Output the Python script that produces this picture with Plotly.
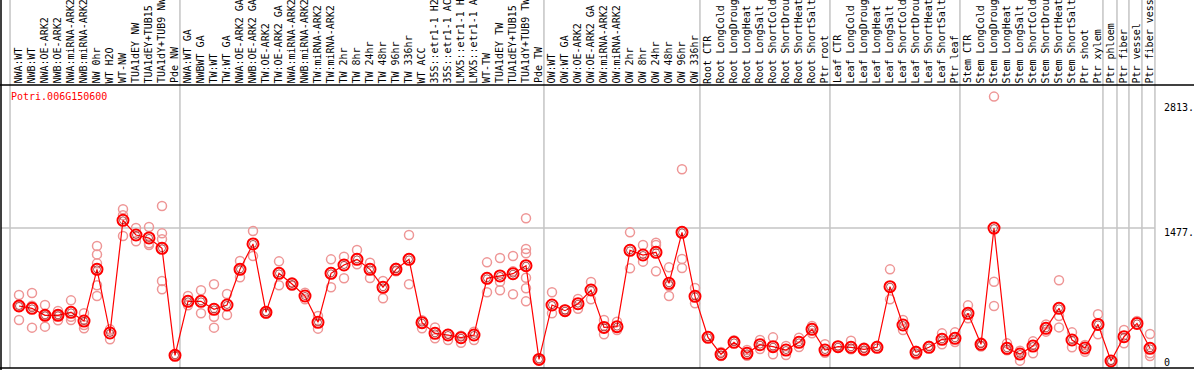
import plotly.graph_objects as go

gene = "Potri.006G150600"

categories = [
    "NWA:WT", "NWB:WT", "NWA:OE-ARK2", "NWB:OE-ARK2", "NWA:miRNA-ARK2", "NWB:miRNA-ARK2",
    "NW 0hr", "WT H2O", "WT-NW", "TUA1dEY NW", "TUA1dEY+TUB15 NW", "TUA1dY+TUB9 NW", "Pde NW",
    "NWA:WT GA", "NWBWT GA", "TW:WT", "TW:WT GA", "NWA:OE-ARK2 GA", "NWB:OE-ARK2 GA",
    "TW:OE-ARK2", "TW:OE-ARK2 GA", "NWA:miRNA-ARK2", "NWB:miRNA-ARK2", "TW:miRNA-ARK2",
    "TW:miRNA-ARK2", "TW 2hr", "TW 8hr", "TW 24hr", "TW 48hr", "TW 96hr", "TW 336hr", "WT ACC",
    "35S::etr1-1 H2O", "35S::etr1-1 ACC", "LMX5::etr1-1 H2O", "LMX5::etr1-1 ACC", "WT-TW",
    "TUA1dEY TW", "TUA1dEY+TUB15 TW", "TUA1dY+TUB9 TW", "Pde TW",
    "OW:WT", "OW:WT GA", "OW:OE-ARK2", "OW:OE-ARK2 GA", "OW:miRNA-ARK2", "OW:miRNA-ARK2",
    "OW 2hr", "OW 8hr", "OW 24hr", "OW 48hr", "OW 96hr", "OW 336hr",
    "Root CTR", "Root LongCold", "Root LongDrought", "Root LongHeat", "Root LongSalt",
    "Root ShortCold", "Root ShortDrought", "Root ShortHeat", "Root ShortSalt", "Ptr root",
    "Leaf CTR", "Leaf LongCold", "Leaf LongDrought", "Leaf LongHeat", "Leaf LongSalt",
    "Leaf ShortCold", "Leaf ShortDrought", "Leaf ShortHeat", "Leaf ShortSalt", "Ptr leaf",
    "Stem CTR", "Stem LongCold", "Stem LongDrought", "Stem LongHeat", "Stem LongSalt",
    "Stem ShortCold", "Stem ShortDrought", "Stem ShortHeat", "Stem ShortSalt", "Ptr shoot",
    "Ptr xylem", "Ptr phloem", "Ptr fiber", "Ptr vessel", "Ptr fiber vessel",
]

means = [
    618, 592, 515, 515, 548, 452, 1022, 320, 1563, 1401, 1368, 1254, 74,
    669, 669, 581, 629, 1022, 1302, 548, 978, 860, 728, 438, 978, 1070, 1132, 1022,
    824, 1022, 1132, 434, 316, 298, 268, 298, 923, 949, 974, 1063, 29,
    629, 566, 643, 794, 382, 390, 1232, 1180, 1210, 868, 1430, 724,
    272, 85, 217, 96, 191, 169, 132, 217, 360,
    132, 169, 162, 140, 162, 831, 408, 107, 162, 250,
    261, 537, 195, 1477, 151, 88, 176, 371, 592, 243, 154,
    415, 11, 279, 426, 151,
]

replicates = [
    [739, 618, 463], [761, 621, 379], [629, 515, 390], [563, 515, 460], [680, 500, 463],
    [537, 408, 371], [1279, 1187, 1088, 846, 728], [360, 250], [1684, 1618, 1390],
    [1478, 1331], [1489, 1309, 1290], [1721, 1419, 1353, 893, 802], [74],
    [728, 625], [791, 537], [857, 500, 379], [750, 518], [1114, 934], [1445, 1169],
    [560, 535], [1110, 846], [880, 840], [765, 691], [507, 368], [1132, 824],
    [1162, 923], [1235, 1077], [1096, 927], [893, 702], [1040, 1000], [1401, 857],
    [460, 371], [382, 261], [310, 243], [290, 213], [335, 243], [1099, 769],
    [1147, 886, 791], [1169, 1000, 747], [1585, 1246, 1199, 930, 813, 669], [29],
    [769, 537], [580], [695, 588], [882, 691], [463, 305], [445, 353],
    [1430, 1033], [1290, 1107], [1316, 1290, 1000], [1044, 838, 728],
    [2125, 1136, 1037], [816, 647],
    [285], [110, 65], [240], [132, 70], [243, 143], [272, 85], [176, 77], [268, 165],
    [397, 316],
    [195, 103], [180], [235, 140], [160, 120], [180], [1022, 691], [463, 353],
    [125, 80], [180], [316, 195],
    [327, 221], [625, 482], [215, 170], [2927, 886, 618], [206, 130], [125, 15],
    [228, 96], [415, 335], [901, 507, 382], [327, 162], [188, 114],
    [526, 305], [20], [353, 206], [452], [309, 96, 66],
]

n = len(categories)
idx = list(range(n))

# geometry (pixels)
W, H = 1194, 370
L, R, T, B = 1, 39, 85, 2
PW, PH = W - L - R, H - T - B
X0, X1 = -1.385, 87.385
Y0, Y1 = -66, 3055
LABEL_CHARS = 14


def px2paper_x(px):
    return (px - L) / PW


def py2paper_y(py):
    return (H - B - py) / PH


def idx2paper_x(i):
    return (i - X0) / (X1 - X0)


fig = go.Figure()

rx, ry = [], []
for i, reps in enumerate(replicates):
    for v in reps:
        rx.append(i)
        ry.append(v)

fig.add_trace(go.Scatter(
    x=rx, y=ry, mode="markers",
    marker=dict(symbol="circle-open", size=9, color="rgb(238,150,150)",
                line=dict(width=1.5)),
    hoverinfo="skip", showlegend=False, cliponaxis=False,
))
fig.add_trace(go.Scatter(
    x=idx, y=means, mode="lines",
    line=dict(color="red", width=1.2),
    hoverinfo="skip", showlegend=False,
))
fig.add_trace(go.Scatter(
    x=idx, y=means, mode="markers",
    marker=dict(symbol="circle-open", size=11, color="red", line=dict(width=2)),
    hoverinfo="skip", showlegend=False, cliponaxis=False,
))
fig.add_trace(go.Scatter(
    x=idx, y=means, mode="markers",
    marker=dict(symbol="circle-open", size=7, color="rgb(140,0,0)", line=dict(width=0.7)),
    hoverinfo="skip", showlegend=False, cliponaxis=False,
))

shapes = []
grey = "#c4c4c4"
top_paper = py2paper_y(0)
for gx in [-0.69, 12.38, 40.38, 52.38, 62.38, 72.38, 83.38, 84.46, 85.38, 86.38, 87.38]:
    xp = idx2paper_x(gx)
    shapes.append(dict(type="line", xref="paper", yref="paper", x0=xp, x1=xp,
                       y0=0, y1=top_paper, line=dict(color=grey, width=1.5), layer="below"))
# horizontal grid at 1477
shapes.append(dict(type="line", xref="paper", yref="y", x0=0, x1=1, y0=1477, y1=1477,
                   line=dict(color=grey, width=1.5), layer="below"))
# black frame lines
right_paper = px2paper_x(W)
shapes.append(dict(type="line", xref="paper", yref="paper", x0=px2paper_x(1), x1=px2paper_x(1),
                   y0=py2paper_y(370), y1=top_paper, line=dict(color="black", width=1.5)))
shapes.append(dict(type="line", xref="paper", yref="paper", x0=px2paper_x(0), x1=right_paper,
                   y0=1, y1=1, line=dict(color="black", width=1.5)))
shapes.append(dict(type="line", xref="paper", yref="paper", x0=px2paper_x(0), x1=right_paper,
                   y0=0, y1=0, line=dict(color="black", width=1.5)))

annotations = []
mono = "DejaVu Sans Mono"
for i, name in enumerate(categories):
    annotations.append(dict(
        text=name[:LABEL_CHARS], xref="paper", yref="paper",
        x=px2paper_x(19 + 13 * i - 1), y=py2paper_y(84.5),
        xanchor="center", yanchor="bottom", textangle=-90, showarrow=False,
        font=dict(family=mono, size=10, color="black"), borderpad=0,
    ))

annotations.append(dict(
    text=gene, xref="paper", yref="paper", x=px2paper_x(10), y=py2paper_y(97),
    xanchor="left", yanchor="middle", showarrow=False,
    font=dict(family=mono, size=10, color="red"), borderpad=0,
))

tick_vals = [2813, 1477, 0]
tick_text = ["2813.", "1477.", "0"]
tick_py = [107, 233, 362]
for t, py in zip(tick_text, tick_py):
    annotations.append(dict(
        text=t, xref="paper", yref="paper", x=px2paper_x(1163), y=py2paper_y(py),
        xanchor="left", yanchor="middle", showarrow=False,
        font=dict(family=mono, size=10, color="black"), borderpad=0,
    ))

fig.update_layout(
    width=W, height=H,
    margin=dict(l=L, r=R, t=T, b=B, pad=0),
    paper_bgcolor="white", plot_bgcolor="white",
    xaxis=dict(range=[X0, X1], showgrid=False, zeroline=False, showticklabels=False,
               showline=False, fixedrange=True),
    yaxis=dict(range=[Y0, Y1], showgrid=False, zeroline=False, showticklabels=False,
               showline=False, fixedrange=True, tickvals=tick_vals),
    shapes=shapes, annotations=annotations, showlegend=False,
)

fig.write_html(
    "out.html",
    config={"displayModeBar": False},
    post_script="document.body.style.margin='0';document.body.style.overflow='hidden';",
)
